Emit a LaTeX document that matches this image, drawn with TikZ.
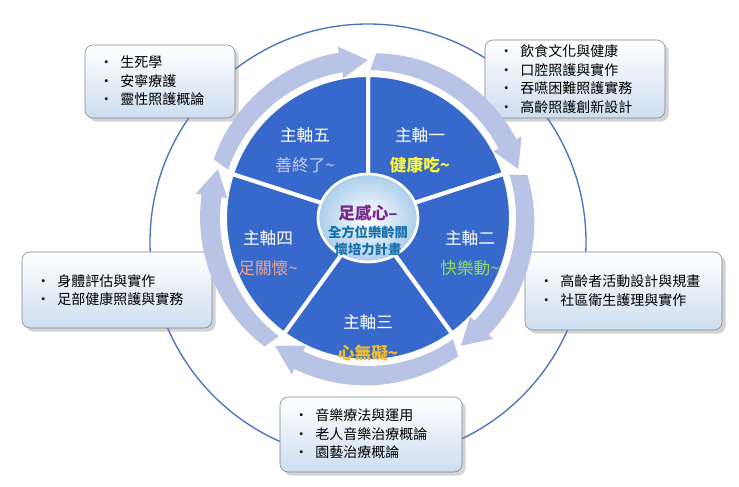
\documentclass[tikz,border=0pt]{standalone}
\usepackage{fontspec}
\setmainfont{Noto Sans CJK TC}
\usetikzlibrary{shadows,calc}
\definecolor{ringblue}{RGB}{70,115,190}
\definecolor{pieblue}{RGB}{55,105,205}
\definecolor{arrowlav}{RGB}{185,195,230}
\tikzset{
  infobox/.style={draw={rgb,255:red,120;green,130;blue,150},rounded corners=6pt,top color=white,bottom color={rgb,255:red,205;green,222;blue,240},drop shadow={opacity=0.35}},
  boxtext/.style={anchor=west,align=left,font=\fontsize{10.5}{14}\selectfont,inner sep=0.75pt},
  axis/.style={text=white,font=\fontsize{12.5}{14}\selectfont},
}
\begin{document}
\begin{tikzpicture}[x=0.75pt,y=0.75pt]
\useasboundingbox (0,0) rectangle (739,486);

%big circle
\draw [color=ringblue,line width=1pt] (368,244) circle (218);

%info boxes
\draw [infobox] (85,368) rectangle (235,441);
\draw [infobox] (485,368) rectangle (665,446);
\draw [infobox] (525,156) rectangle (722,234);
\draw [infobox] (280,14) rectangle (462,89);
\draw [infobox] (22,158) rectangle (212,234);

%sectors
\foreach \a in {90,18,-54,-126,-198}
  \fill [pieblue,draw=white,line width=3pt] (368,268) -- ++(\a:143) arc (\a:\a-72:143) -- cycle;

%arrows around the pie
\foreach \a in {90,18,-54,-126,-198}{
  \fill [arrowlav] (368,268) ++(\a-1:148) arc (\a-1:\a-62:148) -- ++(\a-62:-6) -- ($(368,268)+(\a-72:158)$) -- ($(368,268)+(\a-62:174)$) -- ++(\a-62:-6) arc (\a-62:\a-1:162) -- cycle;
}

%centre
\draw [white,line width=2pt,inner color=white,outer color={rgb,255:red,170;green,205;blue,235}] (368,268) ellipse (50 and 44);

% Text Node
\node [axis] (a1) at (420,351) {主軸一};
\node [text={rgb,255:red,250;green,245;blue,60},font=\fontsize{12.5}{14}\selectfont\bfseries] (b1) at (420,321) {健康吃\textasciitilde};
\node [axis] (a2) at (470,248) {主軸二};
\node [text={rgb,255:red,150;green,220;blue,90},font=\fontsize{12.5}{14}\selectfont] (b2) at (470,218) {快樂動\textasciitilde};
\node [axis] (a3) at (368,164) {主軸三};
\node [text={rgb,255:red,245;green,190;blue,40},font=\fontsize{12.5}{14}\selectfont\bfseries] (b3) at (368,133) {心無礙\textasciitilde};
\node [axis] (a4) at (268,248) {主軸四};
\node [text={rgb,255:red,245;green,165;blue,135},font=\fontsize{12.5}{14}\selectfont] (b4) at (268,218) {足關懷\textasciitilde};
\node [axis] (a5) at (305,351) {主軸五};
\node [text={rgb,255:red,205;green,205;blue,240},font=\fontsize{12.5}{14}\selectfont] (b5) at (305,321) {善終了\textasciitilde};

\node [text={rgb,255:red,120;green,40;blue,140},font=\fontsize{12.5}{14}\selectfont\bfseries] (c0) at (368,273) {足感心–};
\node [text={rgb,255:red,20;green,110;blue,170},align=center,font=\fontsize{10}{13}\selectfont\bfseries] (c1) at (368,245) {全方位樂齡關\\懷培力計畫};

\node [boxtext] (t1) at (98,405) {•\enspace 生死學\\•\enspace 安寧療護\\•\enspace 靈性照護概論};
\node [boxtext] (t2) at (498,407) {•\enspace 飲食文化與健康\\•\enspace 口腔照護與實作\\•\enspace 吞嚥困難照護實務\\•\enspace 高齡照護創新設計};
\node [boxtext] (t3) at (538,195) {•\enspace 高齡者活動設計與規畫\\•\enspace 社區衛生護理與實作};
\node [boxtext] (t4) at (293,52) {•\enspace 音樂療法與運用\\•\enspace 老人音樂治療概論\\•\enspace 園藝治療概論};
\node [boxtext] (t5) at (35,196) {•\enspace 身體評估與實作\\•\enspace 足部健康照護與實務};
\end{tikzpicture}
\end{document}
